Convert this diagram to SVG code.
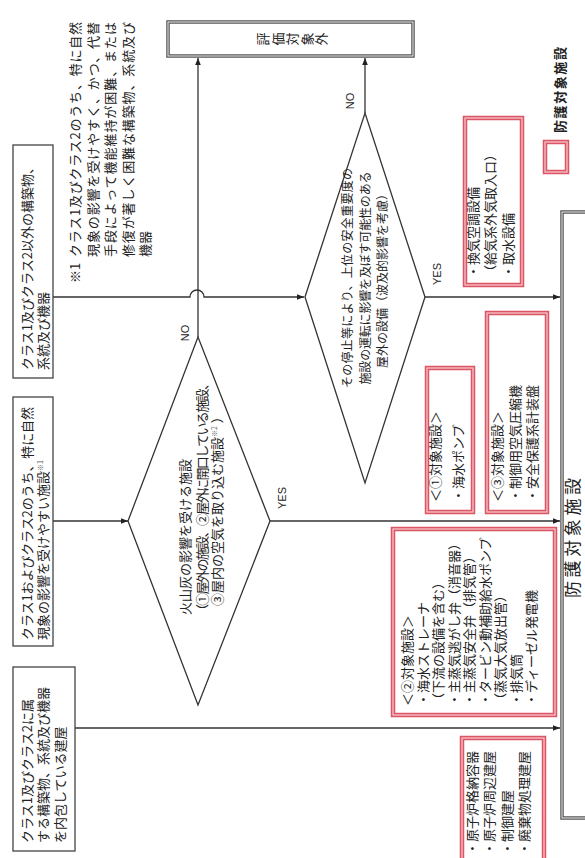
<svg xmlns="http://www.w3.org/2000/svg" width="585" height="858" viewBox="0 0 585 858">
<style>
.t{font-family:'Noto Sans CJK JP','Noto Sans',sans-serif;font-size:13px;fill:#222}
.s{font-size:12px}
.sup{font-size:7px;fill:#666}
.lbl{font-family:'Liberation Sans',Arial,sans-serif;font-size:11px;fill:#222}
.box{fill:#fff;stroke:#444;stroke-width:1.3}
.dbl{fill:#fff;stroke:#555;stroke-width:3.5}
.dbli{fill:none;stroke:#eee;stroke-width:1}
.red{fill:#fff;stroke:#dc5565;stroke-width:4.5}
.redi{fill:none;stroke:#f7c4ca;stroke-width:1.3}
.dia{fill:#fff;stroke:#333;stroke-width:1.3}
.ln{fill:none;stroke:#333;stroke-width:1.3}
.g{text-anchor:middle;dominant-baseline:central}
</style>
<defs>
<marker id="ah" viewBox="0 0 10 10" refX="10" refY="5" markerWidth="8" markerHeight="7" markerUnits="userSpaceOnUse" orient="auto"><path d="M0,1 L10,5 L0,9 z" fill="#222"/></marker>
</defs>
<rect width="585" height="858" fill="#fff"/>
<g transform="translate(0,858) rotate(-90)">
<g id="connectors">
<path class="ln" d="M561,53 L561,190 A7,7 0 0 1 561,204 L561,304" marker-end="url(#ah)"/>
<line class="ln" x1="521" y1="198" x2="800" y2="198" marker-end="url(#ah)"/>
<line class="ln" x1="337" y1="53" x2="337" y2="128" marker-end="url(#ah)"/>
<line class="ln" x1="337" y1="270" x2="337" y2="560" marker-end="url(#ah)"/>
<line class="ln" x1="745" y1="365" x2="800" y2="365" marker-end="url(#ah)"/>
<line class="ln" x1="561" y1="425" x2="561" y2="560" marker-end="url(#ah)"/>
<line class="ln" x1="130" y1="75" x2="130" y2="560" marker-end="url(#ah)"/>
<text class="lbl" x="525" y="189" text-anchor="middle">NO</text>
<text class="lbl" x="757" y="354" text-anchor="middle">NO</text>
<text class="lbl" x="360" y="286" text-anchor="middle">YES</text>
<text class="lbl" x="584" y="441" text-anchor="middle">YES</text>
</g>
<g id="n_hyokagai">
<rect class="dbl" x="802" y="168" width="34" height="245"/>
<rect class="dbli" x="802" y="168" width="34" height="245"/>
<text class="t g" x="819" y="262">評</text>
<text class="t g" x="819" y="277">価</text>
<text class="t g" x="819" y="291">対</text>
<text class="t g" x="819" y="306">象</text>
<text class="t g" x="819" y="320">外</text>
</g>
<g id="n_bougo">
<rect class="dbl" x="40" y="562" width="606" height="60"/>
<rect class="dbli" x="40" y="562" width="606" height="60"/>
<text class="t" x="320" y="579" text-anchor="middle" style="font-size:17px" textLength="120">防護対象施設</text>
</g>
<g id="legend">
<rect class="red" x="686" y="545" width="30" height="22"/>
<rect class="redi" x="686" y="545" width="30" height="22"/>
<text class="t" x="725" y="565" font-weight="bold" textLength="86">防護対象施設</text>
</g>
<g id="n_other">
<rect class="box" x="480" y="13" width="233" height="40"/>
<text class="t" x="488" y="32">クラス1及びクラス2以外の構築物、</text>
<text class="t" x="488" y="48">系統及び機器</text>
</g>
<g id="n_natural">
<rect class="box" x="212" y="13" width="249" height="40"/>
<text class="t" x="218" y="32" textLength="233">クラス1およびクラス2のうち、特に自然</text>
<text class="t" x="218" y="48">現象の影響を受けやすい施設<tspan class="sup" dy="-5">※1</tspan></text>
</g>
<g id="n_building">
<rect class="box" x="7" y="13" width="184" height="62"/>
<text class="t" x="15" y="32">クラス1及びクラス2に属</text>
<text class="t" x="15" y="48">する構築物、系統及び機器</text>
<text class="t" x="15" y="65">を内包している建屋</text>
</g>
<g id="footnote">
<text class="t" x="575" y="80">※1</text>
<text class="t" x="601" y="80" textLength="235">クラス1及びクラス2のうち、特に自然</text>
<text class="t" x="601" y="98" textLength="235">現象の影響を受けやすく、かつ、代替</text>
<text class="t" x="601" y="115" textLength="235">手段によって機能維持が困難、または</text>
<text class="t" x="601" y="133" textLength="235">修復が著しく困難な構築物、系統及び</text>
<text class="t" x="601" y="150">機器</text>
</g>
<g id="d_ash">
<polygon class="dia" points="337,128 521,198 337,270 153,198"/>
<text class="t" x="243" y="190">火山灰の影響を受ける施設</text>
<text class="t" x="241" y="207" textLength="240">（①屋外の施設、②屋外に開口している施設、</text>
<text class="t" x="252" y="222">③屋内の空気を取り込む施設<tspan class="sup" dy="-5">※2</tspan><tspan dy="5"> ）</tspan></text>
</g>
<g id="d_stop">
<polygon class="dia" points="561,305 745,365 561,425 375,365"/>
<text class="t s" x="580" y="352" text-anchor="middle" textLength="220">その停止等により、上位の安全重要度の</text>
<text class="t s" x="580" y="370" text-anchor="middle" textLength="213">施設の運転に影響を及ぼす可能性のある</text>
<text class="t s" x="580" y="387" text-anchor="middle">屋外の設備（波及的影響を考慮）</text>
</g>
<g id="r_hvac">
<rect class="red" x="573" y="465" width="167" height="57"/>
<rect class="redi" x="573" y="465" width="167" height="57"/>
<text class="t" x="580" y="478">・換気空調設備</text>
<text class="t" x="580" y="495">（給気系外気取入口）</text>
<text class="t" x="580" y="513">・取水設備</text>
</g>
<g id="r_1">
<rect class="red" x="346" y="427" width="144" height="46"/>
<rect class="redi" x="346" y="427" width="144" height="46"/>
<text class="t" x="356" y="440">＜①対象施設＞</text>
<text class="t" x="356" y="463">・海水ポンプ</text>
</g>
<g id="r_3">
<rect class="red" x="346" y="487" width="199" height="60"/>
<rect class="redi" x="346" y="487" width="199" height="60"/>
<text class="t" x="356" y="502">＜③対象施設＞</text>
<text class="t" x="356" y="520">・制御用空気圧縮機</text>
<text class="t" x="356" y="537">・安全保護系計装盤</text>
</g>
<g id="r_2">
<rect class="red" x="143" y="393" width="186" height="162"/>
<rect class="redi" x="143" y="393" width="186" height="162"/>
<text class="t" x="152" y="412">＜②対象施設＞</text>
<text class="t" x="152" y="427.5">・海水ストレーナ</text>
<text class="t" x="152" y="443">（下流の設備を含む）</text>
<text class="t" x="152" y="458.5">・主蒸気逃がし弁（消音器）</text>
<text class="t" x="152" y="474">・主蒸気安全弁（排気管）</text>
<text class="t" x="152" y="489.5">・タービン動補助給水ポンプ</text>
<text class="t" x="152" y="505">（蒸気大気放出管）</text>
<text class="t" x="152" y="520.5">・排気筒</text>
<text class="t" x="152" y="536">・ディーゼル発電機</text>
</g>
<g id="r_bldg">
<rect class="red" x="-4" y="462" width="124" height="82"/>
<rect class="redi" x="-4" y="462" width="124" height="82"/>
<text class="t" x="3" y="477">・原子炉格納容器</text>
<text class="t" x="3" y="494">・原子炉周辺建屋</text>
<text class="t" x="3" y="512">・制御建屋</text>
<text class="t" x="3" y="529">・廃棄物処理建屋</text>
</g>
</g>
</svg>
